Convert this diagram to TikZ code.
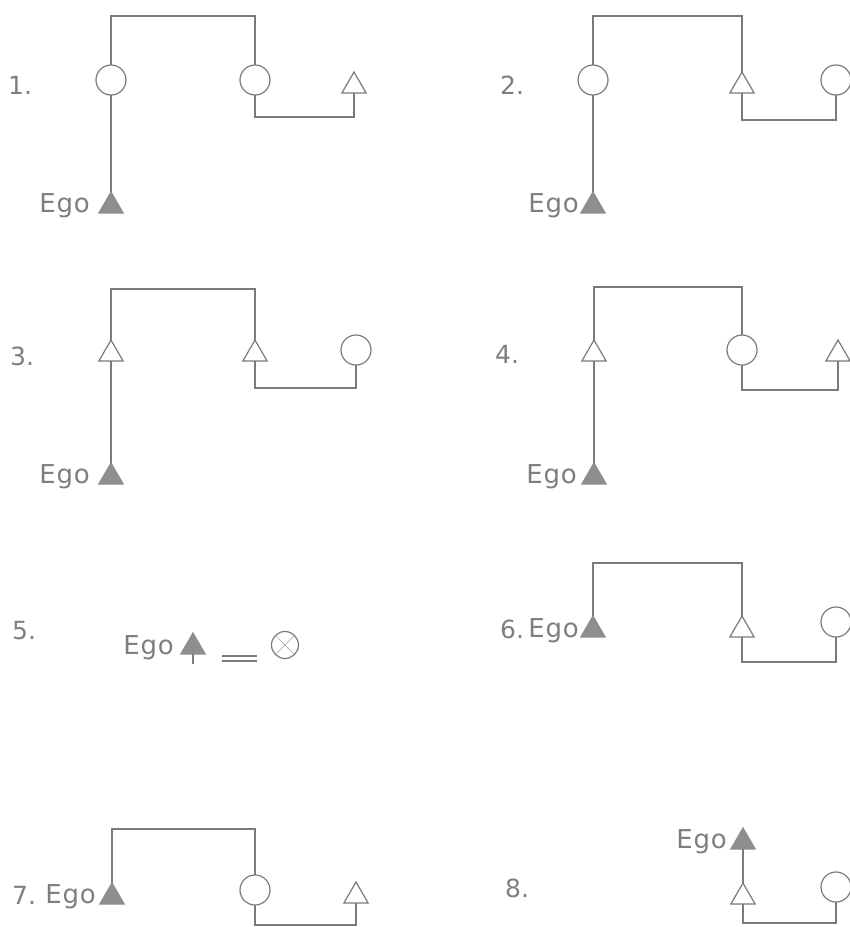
\documentclass[tikz,border=0pt]{standalone}
\usepackage{fontspec}
\setmainfont{DejaVu Sans}
\newfontfamily\egofont[LetterSpace=3]{DejaVu Sans}
\usetikzlibrary{shapes.geometric}
\definecolor{ink}{HTML}{7A7A7A}
\definecolor{txt}{HTML}{7E7E7E}
\definecolor{egofill}{HTML}{8E8E8E}
\begin{document}
\begin{tikzpicture}[x=1pt,y=-1pt,
  female/.style={circle, draw=ink, line width=1.2pt, minimum size=30pt, inner sep=0pt, outer sep=0pt},
  male/.style={regular polygon, regular polygon sides=3, draw=ink, line width=1.2pt, minimum size=28pt, inner sep=0pt, outer sep=0pt},
  egotri/.style={male, fill=egofill, draw=egofill, minimum size=28pt},
  link/.style={draw=ink, line width=1.1pt},
  lbl/.style={text=txt, font=\egofont\fontsize{26}{26}\selectfont, inner sep=0pt},
  num/.style={text=txt, font=\fontsize{25}{25}\selectfont, inner sep=0pt}]
\useasboundingbox (0,0) rectangle (850,927);

% ---------- Panel 1 ----------
\node[num, anchor=base west] (n1) at (8,94) {1.};
\node[female] (c1a) at (111,80) {};
\node[female] (c1b) at (255,80) {};
\node[male] (t1) at (354,86) {};
\node[egotri] (e1) at (111,206) {};
\node[lbl, anchor=base east] (g1) at (90,212) {Ego};
\coordinate (b1) at (0,16);
\coordinate (d1) at (0,117);
\draw[link] (c1a.north) -- (c1a.north |- b1) -| (c1b.north);
\draw[link] (c1b.south) -- (c1b.south |- d1) -| (t1.side 2);
\draw[link] (c1a.south) -- (e1.corner 1);

% ---------- Panel 2 ----------
\node[num, anchor=base west] (n2) at (500,94) {2.};
\node[female] (c2a) at (593,80) {};
\node[male] (t2) at (742,86) {};
\node[female] (c2b) at (836,80) {};
\node[egotri] (e2) at (593,206) {};
\node[lbl, anchor=base east] (g2) at (579,212) {Ego};
\coordinate (b2) at (0,16);
\coordinate (d2) at (0,120);
\draw[link] (c2a.north) -- (c2a.north |- b2) -| (t2.corner 1);
\draw[link] (t2.side 2) -- (t2.side 2 |- d2) -| (c2b.south);
\draw[link] (c2a.south) -- (e2.corner 1);

% ---------- Panel 3 ----------
\node[num, anchor=base west] (n3) at (10,365) {3.};
\node[male] (t3a) at (111,354) {};
\node[male] (t3b) at (255,354) {};
\node[female] (c3) at (356,350) {};
\node[egotri] (e3) at (111,477) {};
\node[lbl, anchor=base east] (g3) at (90,483) {Ego};
\coordinate (b3) at (0,289);
\coordinate (d3) at (0,388);
\draw[link] (t3a.corner 1) -- (t3a.corner 1 |- b3) -| (t3b.corner 1);
\draw[link] (t3b.side 2) -- (t3b.side 2 |- d3) -| (c3.south);
\draw[link] (t3a.side 2) -- (e3.corner 1);

% ---------- Panel 4 ----------
\node[num, anchor=base west] (n4) at (495,363) {4.};
\node[male] (t4a) at (594,354) {};
\node[female] (c4) at (742,350) {};
\node[male] (t4b) at (838,354) {};
\node[egotri] (e4) at (594,477) {};
\node[lbl, anchor=base east] (g4) at (577,483) {Ego};
\coordinate (b4) at (0,287);
\coordinate (d4) at (0,390);
\draw[link] (t4a.corner 1) -- (t4a.corner 1 |- b4) -| (c4.north);
\draw[link] (c4.south) -- (c4.south |- d4) -| (t4b.side 2);
\draw[link] (t4a.side 2) -- (e4.corner 1);

% ---------- Panel 5 ----------
\node[num, anchor=base west] (n5) at (12,639) {5.};
\node[lbl, anchor=base east] (g5) at (174,654) {Ego};
\node[egotri] (e5) at (193,647) {};
\coordinate (s5) at (193,664);
\draw[link] (e5.side 2) -- (s5);
\coordinate (q1) at (222,656);
\coordinate (q2) at (257,656);
\coordinate (q3) at (222,661);
\coordinate (q4) at (257,661);
\draw[link] (q1) -- (q2);
\draw[link] (q3) -- (q4);
\node[female, minimum size=27pt] (c5) at (285,645) {};
\draw[ink!70, line width=0.6pt] (c5.north east) -- (c5.south west);
\draw[ink!70, line width=0.6pt] (c5.north west) -- (c5.south east);

% ---------- Panel 6 ----------
\node[num, anchor=base west] (n6) at (500,638) {6.};
\node[lbl, anchor=base east] (g6) at (579,637) {Ego};
\node[egotri] (e6) at (593,630) {};
\node[male] (t6) at (742,630) {};
\node[female] (c6) at (836,622) {};
\coordinate (b6) at (0,563);
\coordinate (d6) at (0,662);
\draw[link] (e6.corner 1) -- (e6.corner 1 |- b6) -| (t6.corner 1);
\draw[link] (t6.side 2) -- (t6.side 2 |- d6) -| (c6.south);

% ---------- Panel 7 ----------
\node[num, anchor=base west] (n7) at (12,904) {7.};
\node[lbl, anchor=base east] (g7) at (96,903) {Ego};
\node[egotri] (e7) at (112,897) {};
\node[female] (c7) at (255,890) {};
\node[male] (t7) at (356,896) {};
\coordinate (b7) at (0,829);
\coordinate (d7) at (0,925);
\draw[link] (e7.corner 1) -- (e7.corner 1 |- b7) -| (c7.north);
\draw[link] (c7.south) -- (c7.south |- d7) -| (t7.side 2);

% ---------- Panel 8 ----------
\node[num, anchor=base west] (n8) at (505,897) {8.};
\node[lbl, anchor=base east] (g8) at (727,848) {Ego};
\node[egotri] (e8) at (743,842) {};
\node[male] (t8) at (743,897) {};
\node[female] (c8) at (836,887) {};
\coordinate (d8) at (0,923);
\draw[link] (e8.side 2) -- (t8.corner 1);
\draw[link] (t8.side 2) -- (t8.side 2 |- d8) -| (c8.south);
\end{tikzpicture}
\end{document}
